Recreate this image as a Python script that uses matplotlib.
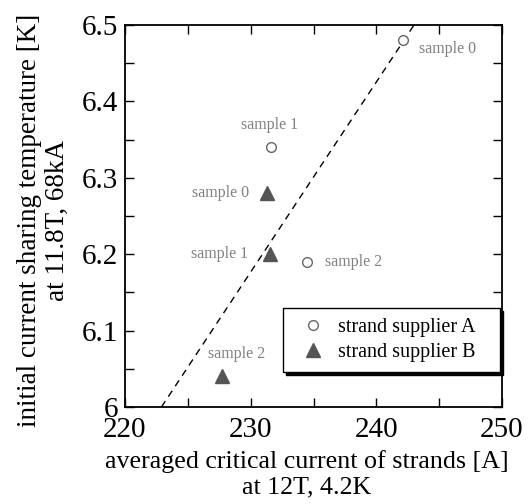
import matplotlib
matplotlib.use("Agg")
import matplotlib.pyplot as plt
from matplotlib.ticker import MultipleLocator, FuncFormatter

plt.rcParams['font.family'] = ['Liberation Serif', 'DejaVu Serif']

# Data
supplier_a_x = [242.1, 231.6, 234.5]
supplier_a_y = [6.48, 6.34, 6.19]
supplier_a_labels = ["sample 0", "sample 1", "sample 2"]
supplier_b_x = [231.3, 231.5, 227.7]
supplier_b_y = [6.28, 6.20, 6.04]
supplier_b_labels = ["sample 0", "sample 1", "sample 2"]
fit_x = [222.9, 243.0]
fit_y = [6.0, 6.5]
x_ticks = [220, 230, 240, 250]
y_ticks = [6.0, 6.1, 6.2, 6.3, 6.4, 6.5]

fig = plt.figure(figsize=(5.3, 5.04), dpi=100)
ax = fig.add_axes([125/530, 1-407/504, 377/530, 382/504])

ax.plot(fit_x, fit_y, ls=(0, (5, 4)), color='black', lw=1.0, zorder=1)
ax.plot(supplier_a_x, supplier_a_y, ls='none', marker='o', ms=7,
        mfc='white', mec='#666666', mew=1.0, label='strand supplier A', zorder=3)
ax.plot(supplier_b_x, supplier_b_y, ls='none', marker='^', ms=9.5,
        mfc='#555555', mec='#555555', label='strand supplier B', zorder=3)

a_offsets = [((12, -6), 'left', 'center'), ((-1, 16), 'center', 'center'), ((12.5, 0), 'left', 'center')]
b_offsets = [((-12.7, 0), 'right', 'center'), ((-15.3, 0), 'right', 'center'), ((11, 16), 'center', 'center')]
for xs, ys, labs, offs in [(supplier_a_x, supplier_a_y, supplier_a_labels, a_offsets),
                           (supplier_b_x, supplier_b_y, supplier_b_labels, b_offsets)]:
    for x, y, lab, (off, ha, va) in zip(xs, ys, labs, offs):
        ax.annotate(lab, (x, y), xytext=off, textcoords='offset points',
                    ha=ha, va=va, fontsize=11.5, color='#808080')

ax.set_xlim(220, 250)
ax.set_ylim(6.0, 6.5)
ax.set_xticks(x_ticks)
ax.set_yticks(y_ticks)
ax.xaxis.set_minor_locator(MultipleLocator(5))
ax.yaxis.set_minor_locator(MultipleLocator(0.05))
ax.yaxis.set_major_formatter(FuncFormatter(lambda v, p: "6" if abs(v-6) < 1e-9 else f"{v:.1f}"))
ax.tick_params(which='both', direction='in', top=True, right=True, length=6.5, width=1.0,
               labelsize=21)
ax.tick_params(axis='x', pad=7.5)
ax.tick_params(axis='y', pad=5)
for s in ax.spines.values():
    s.set_linewidth(1.3)

ax.set_xlabel("averaged critical current of strands [A]\nat 12T, 4.2K", fontsize=18.7,
              linespacing=1.2)
ax.xaxis.set_label_coords(0.483, -0.113)
ax.set_ylabel("initial current sharing temperature [K]\nat 11.8T, 68kA", fontsize=19.5,
              linespacing=1.15)
ax.yaxis.set_label_coords(-0.146, 0.4895)

leg = ax.legend(loc='lower left', bbox_to_anchor=(158.3/377, 34.7/382, 216.7/377, 0.1),
                mode='expand', borderaxespad=0,
                fontsize=14.5, fancybox=False, edgecolor='black', framealpha=1,
                shadow={'color': 'black', 'alpha': 1}, handletextpad=0.3,
                labelspacing=0.3, borderpad=0.5, handlelength=1.9)
leg.get_frame().set_linewidth(1.0)

fig.savefig("out.png", dpi=100)
